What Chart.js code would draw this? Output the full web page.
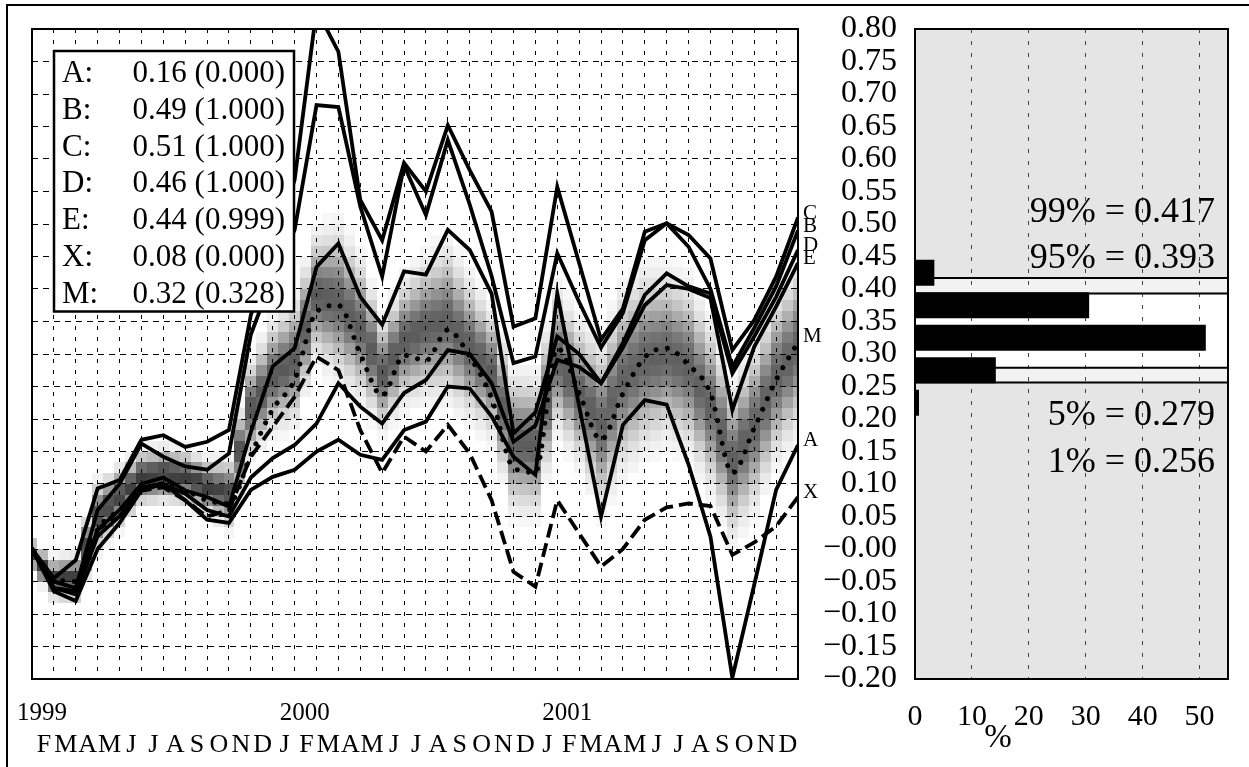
<!DOCTYPE html>
<html><head><meta charset="utf-8">
<script src="https://cdn.jsdelivr.net/npm/chart.js@4.4.0/dist/chart.umd.min.js"></script>
<style>
html,body{margin:0;padding:0;background:#fff;}
body{width:1249px;height:767px;position:relative;overflow:hidden;}
#frame{position:absolute;left:6px;top:4px;width:1243px;height:763px;border-top:2px solid #000;border-left:2px solid #000;box-sizing:border-box;}
#c1{position:absolute;left:0;top:0;}
#c2{position:absolute;left:820px;top:0;}
</style></head><body>
<div id="frame"></div>
<canvas id="c1" width="830" height="767"></canvas>
<canvas id="c2" width="429" height="767"></canvas>
<script>
// ---------------- data ----------------
const monthLetters = ['', 'F','M','A','M','J','J','A','S','O','N','D',
                      'J','F','M','A','M','J','J','A','S','O','N','D',
                      'J','F','M','A','M','J','J','A','S','O','N','D'];
const yearLabels = ['1999','2000','2001'];
const yearTicks = [0, 12, 24];
const valueTicks = [0.80,0.75,0.70,0.65,0.60,0.55,0.50,0.45,0.40,0.35,0.30,0.25,0.20,0.15,0.10,0.05,0.00,-0.05,-0.10,-0.15,-0.20];
const pctTicks = [0,10,20,30,40,50];

const seriesA = [0.00,-0.065,-0.08,0.00,0.04,0.09,0.10,0.075,0.045,0.04,0.091,0.111,
                 0.122,0.15,0.168,0.145,0.137,0.183,0.196,0.25,0.247,0.204,0.142,0.114,
                 0.393,0.22,0.05,0.191,0.229,0.222,0.13,0.019,-0.198,-0.055,0.091,0.16];
const seriesB = [0.00,-0.05,-0.06,0.06,0.10,0.162,0.142,0.127,0.122,0.147,0.33,0.42,
                 0.491,0.683,0.68,0.527,0.419,0.59,0.514,0.629,0.53,0.42,0.286,0.296,
                 0.455,0.38,0.31,0.363,0.475,0.501,0.465,0.40,0.28,0.34,0.404,0.49];
const seriesC = [0.00,-0.045,-0.017,0.093,0.106,0.168,0.175,0.157,0.165,0.183,0.36,0.46,
                 0.568,0.83,0.765,0.537,0.475,0.594,0.55,0.652,0.583,0.519,0.342,0.355,
                 0.557,0.44,0.322,0.37,0.488,0.501,0.483,0.447,0.306,0.352,0.419,0.51];
const seriesD = [0.00,-0.06,-0.065,0.03,0.06,0.10,0.11,0.09,0.08,0.065,0.18,0.281,
                 0.309,0.434,0.47,0.388,0.345,0.427,0.422,0.491,0.46,0.393,0.178,0.21,
                 0.327,0.30,0.255,0.317,0.391,0.424,0.404,0.393,0.27,0.327,0.388,0.46];
const seriesE = [0.00,-0.06,-0.07,0.02,0.05,0.095,0.10,0.085,0.06,0.05,0.11,0.14,
                 0.16,0.193,0.255,0.219,0.193,0.24,0.26,0.306,0.30,0.255,0.165,0.19,
                 0.291,0.28,0.255,0.31,0.375,0.406,0.40,0.386,0.214,0.311,0.373,0.44];
const seriesX = [0.00,-0.05,-0.06,0.03,0.05,0.09,0.095,0.075,0.05,0.06,0.142,0.188,
                 0.234,0.296,0.275,0.183,0.117,0.173,0.15,0.191,0.147,0.075,-0.035,-0.058,
                 0.075,0.024,-0.027,0.0,0.045,0.064,0.07,0.066,-0.009,0.01,0.035,0.08];
const seriesM = [0.00,-0.045,-0.05,0.03,0.06,0.09,0.10,0.09,0.075,0.07,0.145,0.215,
                 0.26,0.365,0.375,0.30,0.236,0.298,0.29,0.337,0.296,0.232,0.125,0.118,
                 0.309,0.24,0.168,0.239,0.295,0.309,0.283,0.24,0.117,0.186,0.26,0.318];

// grey density band: centre and spread per month
const shadeMid = [-0.01,-0.045,-0.045,0.05,0.08,0.11,0.115,0.11,0.095,0.085,0.216,0.265,
                  0.29,0.39,0.38,0.34,0.27,0.32,0.34,0.35,0.31,0.27,0.165,0.16,
                  0.29,0.24,0.19,0.26,0.29,0.30,0.28,0.22,0.135,0.19,0.265,0.31];
const shadeSpread = [0.012,0.015,0.018,0.025,0.022,0.02,0.02,0.02,0.02,0.025,0.035,0.04,
                     0.045,0.045,0.055,0.05,0.04,0.045,0.05,0.055,0.05,0.045,0.05,0.05,
                     0.05,0.05,0.06,0.065,0.065,0.06,0.06,0.06,0.055,0.06,0.06,0.06];

const legendNames = ['A','B','C','D','E','X','M'];
const legendValues = [0.16,0.49,0.51,0.46,0.44,0.08,0.32];
const legendProbs = ['0.000','1.000','1.000','1.000','0.999','0.000','0.328'];

// histogram (right panel)
const binCenters = [0.425,0.375,0.325,0.275,0.225];
const binPercent = [3.4,30.6,51.1,14.2,0.7];
const quantileLevels = ['99%','95%','5%','1%'];
const quantileValues = [0.417,0.393,0.279,0.256];

// ---------------- helpers ----------------
const FONT = '"Liberation Serif","Times New Roman",serif';
const pts = arr => arr.map((v,i)=>({x:i,y:v}));
const fmtVal = v => ((v < -1e-9 || Math.abs(v) < 1e-9) ? '\u2212' : '') + Math.abs(v).toFixed(2);
const noPadX = h => s => { s.height = h; s.paddingLeft = 0; s.paddingRight = 0; };
const noPadY = w => s => { s.width = w; s.paddingTop = 0; s.paddingBottom = 0; };

const shadePlugin = {
  id:'shade',
  beforeDraw(chart){
    const {ctx, chartArea:a, scales:{x,y}} = chart;
    ctx.save();
    ctx.beginPath(); ctx.rect(a.left,a.top,a.right-a.left,a.bottom-a.top); ctx.clip();
    const dv = 1/60;
    const n = shadeMid.length;
    for (let c = 0; c <= 2*(n-1); c++) {
      const m = c/2;
      const i0 = Math.floor(m), i1 = Math.min(n-1, i0+1), t = m - i0;
      const mid = shadeMid[i0]*(1-t) + shadeMid[i1]*t;
      const sd = shadeSpread[i0]*(1-t) + shadeSpread[i1]*t;
      const amp = Math.min(1, 0.72 + 0.28*(0.02/sd));
      const xl = Math.round(x.getPixelForValue(m-0.25)), xr = Math.round(x.getPixelForValue(m+0.25));
      for (let k = 0; k < 60; k++) {
        const v0 = -0.2 + k*dv, vc = v0 + dv/2;
        const z = (vc-mid)/sd; const I = Math.exp(-0.5*z*z);
        if (I < 0.04) continue;
        const g = Math.round(255 - 195*I*amp);
        ctx.fillStyle = `rgb(${g},${g},${g})`;
        const yt = Math.round(y.getPixelForValue(v0+dv)), yb = Math.round(y.getPixelForValue(v0));
        ctx.fillRect(xl, yt, xr-xl, yb-yt);
      }
    }
    ctx.restore();
  }
};

const leftDecor = {
  id:'leftDecor',
  afterDraw(chart){
    const {ctx, chartArea:a, scales:{y}} = chart;
    ctx.save();
    ctx.lineWidth = 2; ctx.strokeStyle = '#000';
    ctx.strokeRect(a.left, a.top, a.right-a.left, a.bottom-a.top);
    ctx.fillStyle = '#fff'; ctx.fillRect(53,50,242,262);
    ctx.lineWidth = 2.5; ctx.strokeRect(54,51,240,260.5);
    ctx.fillStyle = '#000'; ctx.font = '31px ' + FONT; ctx.textBaseline = 'alphabetic';
    legendNames.forEach((nm,i)=>{
      const by = 82 + i*36.8;
      ctx.textAlign = 'left'; ctx.fillText(nm + ':', 62, by);
      ctx.textAlign = 'right'; ctx.fillText(legendValues[i].toFixed(2) + ' (' + legendProbs[i] + ')', 285, by);
    });
    ctx.font = '21px ' + FONT; ctx.textAlign = 'left';
    legendNames.forEach((nm,i)=>{
      ctx.fillText(nm, a.right + 5, y.getPixelForValue(legendValues[i]) + 1);
    });
    ctx.restore();
  }
};

const solid = (label, data) => ({label, data:pts(data), borderColor:'#000', borderWidth:3.8, pointRadius:0, tension:0, fill:false, clip:0, borderJoinStyle:'miter'});

new Chart(document.getElementById('c1'), {
  type:'line',
  data:{ datasets:[
    solid('A', seriesA), solid('B', seriesB), solid('C', seriesC), solid('D', seriesD), solid('E', seriesE),
    {label:'X', data:pts(seriesX), borderColor:'#000', borderWidth:3.8, borderDash:[14,6], pointRadius:0, tension:0, fill:false, clip:0},
    {label:'M', data:pts(seriesM), borderColor:'#000', borderWidth:5, borderDash:[0.01,11.5], borderCapStyle:'round', pointRadius:0, cubicInterpolationMode:'monotone', fill:false, clip:0}
  ]},
  options:{
    responsive:false, animation:false, devicePixelRatio:1,
    layout:{padding:{left:32, top:29, right:32, bottom:0}},
    plugins:{legend:{display:false}, tooltip:{enabled:false}},
    scales:{
      x:{ type:'linear', min:0, max:35, position:'bottom', weight:1, offset:false,
          afterBuildTicks: s => { s.ticks = monthLetters.map((_,i)=>({value:i})); },
          afterFit: noPadX(38),
          ticks:{ autoSkip:false, maxRotation:0, minRotation:0, padding:1, labelOffset:-10, color:'#000',
                  font:{family:FONT, size:26}, callback:(v,i)=>monthLetters[i] },
          grid:{ color:'#000', lineWidth:1, drawTicks:false },
          border:{ display:false, dash:[4,7] } },
      yr:{ type:'linear', min:0, max:35, position:'bottom', weight:0, offset:false,
          afterBuildTicks: s => { s.ticks = yearTicks.map(v=>({value:v})); },
          afterFit: noPadX(50),
          ticks:{ autoSkip:false, maxRotation:0, minRotation:0, padding:19, labelOffset:10, color:'#000',
                  font:{family:FONT, size:25}, callback:(v,i)=>yearLabels[i] },
          grid:{ display:false, drawTicks:false }, border:{display:false} },
      y:{ type:'linear', min:-0.2, max:0.8, offset:false,
          afterBuildTicks: s => { s.ticks = valueTicks.map(v=>({value:v})); },
          afterFit: noPadY(0),
          ticks:{ display:false },
          grid:{ color:'#000', lineWidth:1, drawTicks:false },
          border:{ display:false, dash:[6,5] } }
    }
  },
  plugins:[shadePlugin, leftDecor]
});

const rightBg = {
  id:'rightBg',
  beforeDraw(chart){
    const {ctx, chartArea:a, scales:{y}} = chart;
    ctx.save();
    ctx.fillStyle = '#e5e5e5'; ctx.fillRect(a.left,a.top,a.right-a.left,a.bottom-a.top);
    const [q99,q95,q05,q01] = quantileValues.map(v=>y.getPixelForValue(v));
    ctx.fillStyle = '#f2f2f2';
    ctx.fillRect(a.left,q99,a.right-a.left,q95-q99);
    ctx.fillRect(a.left,q05,a.right-a.left,q01-q05);
    ctx.fillStyle = '#fff';
    ctx.fillRect(a.left,q95,a.right-a.left,q05-q95);
    ctx.restore();
  },
  beforeDatasetsDraw(chart){
    const {ctx, chartArea:a, scales:{y}} = chart;
    ctx.save(); ctx.strokeStyle = '#000'; ctx.lineWidth = 2;
    quantileValues.forEach(v=>{ const p = y.getPixelForValue(v); ctx.beginPath(); ctx.moveTo(a.left,p); ctx.lineTo(a.right,p); ctx.stroke(); });
    ctx.restore();
  },
  afterDraw(chart){
    const {ctx, chartArea:a} = chart;
    ctx.save();
    ctx.lineWidth = 2; ctx.strokeStyle = '#000';
    ctx.strokeRect(a.left, a.top, a.right-a.left, a.bottom-a.top);
    ctx.fillStyle = '#000'; ctx.font = '36px ' + FONT; ctx.textAlign = 'right'; ctx.textBaseline = 'alphabetic';
    const baselines = [222, 268, 425, 472];
    quantileLevels.forEach((lv,i)=>{ ctx.fillText(lv + ' = ' + quantileValues[i].toFixed(3), a.right - 13, baselines[i]); });
    ctx.font = '33px ' + FONT; ctx.textAlign = 'center'; ctx.textBaseline = 'middle';
    ctx.fillText('%', 998 - 820, 738);
    ctx.restore();
  }
};

new Chart(document.getElementById('c2'), {
  type:'bar',
  data:{ datasets:[{ data: binCenters.map((c,i)=>({x:binPercent[i], y:c})), backgroundColor:'#000', borderWidth:0, barPercentage:0.8, categoryPercentage:1.0 }]},
  options:{
    indexAxis:'y', responsive:false, animation:false, devicePixelRatio:1,
    layout:{padding:{left:0, top:29, right:21, bottom:0}},
    plugins:{legend:{display:false}, tooltip:{enabled:false}},
    scales:{
      x:{ type:'linear', min:0, max:55, position:'bottom', offset:false,
          afterBuildTicks: s => { s.ticks = pctTicks.map(v=>({value:v})); },
          afterFit: noPadX(88),
          ticks:{ autoSkip:false, maxRotation:0, padding:20, color:'#000', font:{family:FONT, size:30} },
          grid:{ color:'#444', lineWidth:1, drawTicks:false, offset:false },
          border:{ display:false, dash:[4,8] } },
      y:{ type:'linear', min:-0.2, max:0.8, position:'left', offset:false,
          afterBuildTicks: s => { s.ticks = valueTicks.map(v=>({value:v})); },
          afterFit: noPadY(95),
          ticks:{ autoSkip:false, padding:18, color:'#000', font:{family:FONT, size:32}, callback:(v)=>fmtVal(v) },
          grid:{ display:false, drawTicks:false, offset:false }, border:{display:false} }
    }
  },
  plugins:[rightBg]
});
</script>
</body></html>
